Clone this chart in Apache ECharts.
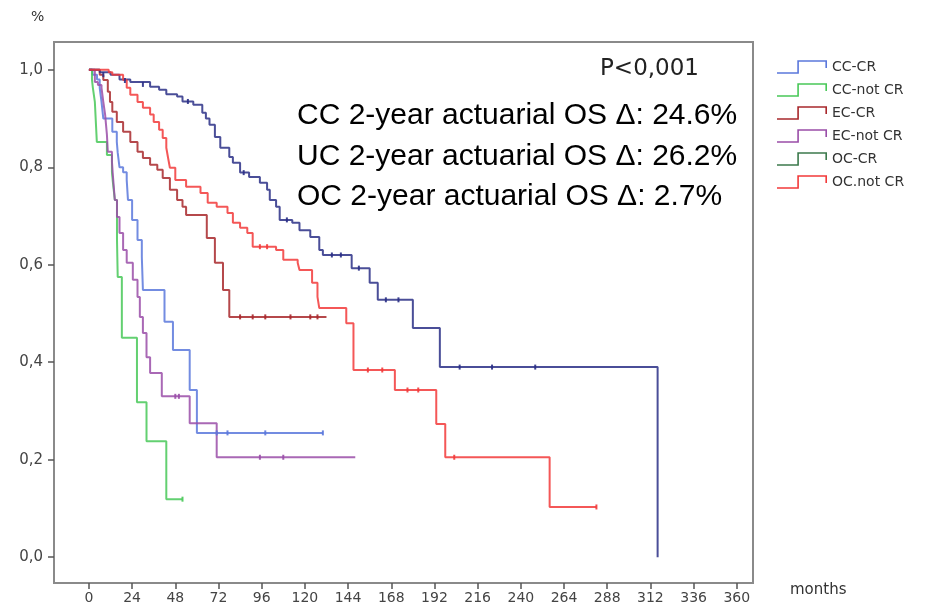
<!DOCTYPE html>
<html><head><meta charset="utf-8">
<script src="https://cdn.jsdelivr.net/npm/echarts@6/dist/echarts.min.js"></script>
<style>html,body{margin:0;padding:0;background:#fff}#c{width:943px;height:609px}</style>
</head><body><div id="c"></div>
<script>
// ---- data (months, survival proportion after each drop) ----
const seriesNames = ['CC-CR','CC-not CR','EC-CR','EC-not CR','OC-CR','OC.not CR'];
const xTicks = [0,24,48,72,96,120,144,168,192,216,240,264,288,312,336,360];
const yTicks = [0,0.2,0.4,0.6,0.8,1.0];

const ccCR = [[0,1.0],[2,0.99],[4.5,0.98],[6,0.963],[7,0.934],[8,0.90],[13,0.873],[15.5,0.852],[16,0.83],[17,0.80],[19,0.79],[21,0.774],[21.7,0.733],[24,0.692],[27,0.651],[29.4,0.616],[30,0.548],[42,0.483],[46.7,0.425],[56,0.343],[60,0.255],[130,0.255]];
const ccNotCR = [[0,1.0],[1.7,0.98],[2.2,0.963],[3.3,0.934],[4.4,0.852],[10,0.825],[12.8,0.79],[13.3,0.77],[14.4,0.733],[15.6,0.651],[16,0.575],[18.3,0.45],[26.7,0.318],[32,0.238],[43,0.119],[52,0.119]];
const ecCR = [[0,1.0],[6,0.99],[8,0.979],[10.5,0.955],[11.7,0.934],[13,0.914],[15.5,0.893],[19,0.873],[23,0.852],[27,0.832],[30,0.819],[34,0.805],[38,0.795],[41,0.778],[45,0.754],[49,0.733],[52,0.719],[54,0.702],[65.5,0.655],[70,0.604],[74.5,0.548],[78,0.493],[132,0.493]];
const ecNotCR = [[0,1.0],[3.3,0.975],[5,0.969],[7,0.963],[8,0.934],[9,0.908],[10,0.867],[10.5,0.832],[12.8,0.811],[13.3,0.784],[14.4,0.733],[15.6,0.698],[17,0.665],[19,0.63],[21,0.604],[24.4,0.569],[27,0.534],[28.3,0.493],[30,0.46],[32,0.41],[34,0.378],[40.5,0.33],[56,0.275],[71,0.205],[148,0.205]];
const ocCR = [[0,1.0],[6,0.995],[12,0.99],[17,0.98],[23,0.975],[34,0.965],[39,0.959],[43,0.95],[49,0.945],[52,0.935],[58,0.928],[63,0.912],[65,0.90],[67,0.887],[70,0.862],[73,0.84],[78,0.821],[80,0.809],[84,0.789],[89,0.78],[95,0.768],[99,0.754],[100.5,0.733],[104,0.719],[106,0.692],[113,0.686],[117,0.671],[123,0.657],[128,0.63],[130,0.62],[146,0.593],[156,0.563],[160.5,0.528],[180,0.47],[195,0.39],[316,0.0]];
const ocNotCR = [[0,1.0],[11,0.995],[13,0.99],[19,0.979],[21,0.963],[23,0.949],[27,0.934],[30,0.922],[34,0.908],[36,0.893],[39,0.877],[41,0.86],[43,0.84],[44,0.819],[45,0.799],[48,0.774],[54,0.76],[62,0.747],[66,0.727],[71,0.719],[77,0.706],[80,0.686],[84,0.676],[88,0.665],[91,0.637],[104,0.63],[108,0.61],[116,0.604],[117,0.589],[124,0.563],[127,0.534],[128,0.511],[143,0.48],[147,0.384],[170,0.343],[193,0.273],[198,0.205],[256,0.103],[282,0.103]];

// censored observations (tick marks)
const ccCRCens = [[71,0.255],[77,0.255],[98,0.255],[130,0.255]];
const ccNotCRCens = [[52,0.119]];
const ecCRCens = [[84,0.493],[91,0.493],[98,0.493],[112,0.493],[123,0.493],[127,0.493]];
const ecNotCRCens = [[48,0.33],[50,0.33],[95,0.205],[108,0.205]];
const ocCRCens = [[8,0.99],[20,0.978],[30,0.97],[55,0.935],[86,0.789],[110,0.692],[135,0.62],[140,0.62],[150,0.593],[165,0.528],[172,0.528],[206,0.39],[224,0.39],[248,0.39]];
const ocNotCRCens = [[95,0.637],[99,0.637],[155,0.384],[163,0.384],[177,0.343],[183,0.343],[203,0.205],[282,0.103]];

const annotations = ['CC 2-year actuarial OS \u0394: 24.6%','UC 2-year actuarial OS \u0394: 26.2%','OC 2-year actuarial OS \u0394: 2.7%'];
const pText = 'P<0,001';

// ---- styling ----
const lineColors = ['#5b78dc','#48c858','#a8282c','#9a4ea8','#2a2f86','#f23a3a'];
const legendColors = ['#5b78dc','#48c858','#a8282c','#9a4ea8','#3c7a4c','#f23a3a'];
const curves = [ccCR, ccNotCR, ecCR, ecNotCR, ocCR, ocNotCR];
const cens = [ccCRCens, ccNotCRCens, ecCRCens, ecNotCRCens, ocCRCens, ocNotCRCens];

const stepIcon = 'path://M0,12.2 L20.2,12.2 L20.2,0.2 L49.8,0.2 L49.8,8 L48.2,8 L48.2,1.8 L21.8,1.8 L21.8,13.8 L0,13.8 Z';

const series = [];
curves.forEach((d, i) => {
  series.push({
    name: seriesNames[i], type: 'line', step: 'end', data: d,
    showSymbol: false, symbol: 'none', silent: true,
    lineStyle: { color: lineColors[i], width: 2, opacity: 0.85 },
    itemStyle: { color: legendColors[i] },
    z: 3 + i
  });
});
cens.forEach((d, i) => {
  series.push({
    name: seriesNames[i] + ' censored', type: 'scatter', data: d, silent: true,
    symbol: 'rect', symbolSize: [2, 5],
    itemStyle: { color: lineColors[i], opacity: 0.9 }, z: 10
  });
});

const chart = echarts.init(document.getElementById('c'), null, { renderer: 'canvas' });
chart.setOption({
  animation: false,
  backgroundColor: '#ffffff',
  grid: { left: 54, top: 42, width: 699, height: 541, show: true, borderColor: '#8a8a8a', borderWidth: 2, backgroundColor: 'transparent' },
  xAxis: {
    type: 'value', min: -19.4, max: 369,
    splitLine: { show: false },
    axisLine: { show: false, onZero: false },
    axisTick: { show: true, inside: false, length: 6, customValues: xTicks, lineStyle: { color: '#555', width: 1.5 } },
    axisLabel: { customValues: xTicks, color: '#444', fontFamily: 'DejaVu Sans', fontSize: 14, margin: 8 }
  },
  yAxis: {
    type: 'value', min: -0.053, max: 1.057,
    splitLine: { show: false },
    axisLine: { show: false, onZero: false },
    axisTick: { show: true, inside: false, length: 6, customValues: yTicks, lineStyle: { color: '#555', width: 1.5 } },
    axisLabel: { customValues: yTicks, color: '#444', fontFamily: 'DejaVu Sans', fontSize: 15, margin: 11,
      formatter: v => v.toFixed(1).replace('.', ',') }
  },
  legend: {
    orient: 'vertical', left: 772, top: 55, itemWidth: 50, itemHeight: 14, itemGap: 9,
    icon: stepIcon,
    textStyle: { color: '#333', fontFamily: 'DejaVu Sans', fontSize: 14, padding: [0, 0, 0, 0] },
    data: seriesNames.map((n, i) => ({ name: n, itemStyle: { color: legendColors[i] } })),
    selectedMode: false
  },
  graphic: [
    { type: 'text', left: 31, top: 10, style: { text: '%', fill: '#333', font: '14px "DejaVu Sans"' } },
    { type: 'text', left: 790, top: 583, style: { text: 'months', fill: '#333', font: '15px "DejaVu Sans"' } },
    { type: 'text', left: 600, top: 58, style: { text: pText, fill: '#222', font: '23px "DejaVu Sans"' } },
    { type: 'text', left: 297, top: 101, style: { text: annotations[0], fill: '#000', font: '30px "Liberation Sans"' } },
    { type: 'text', left: 297, top: 142, style: { text: annotations[1], fill: '#000', font: '30px "Liberation Sans"' } },
    { type: 'text', left: 297, top: 182, style: { text: annotations[2], fill: '#000', font: '30px "Liberation Sans"' } }
  ],
  series: series
});
</script></body></html>
